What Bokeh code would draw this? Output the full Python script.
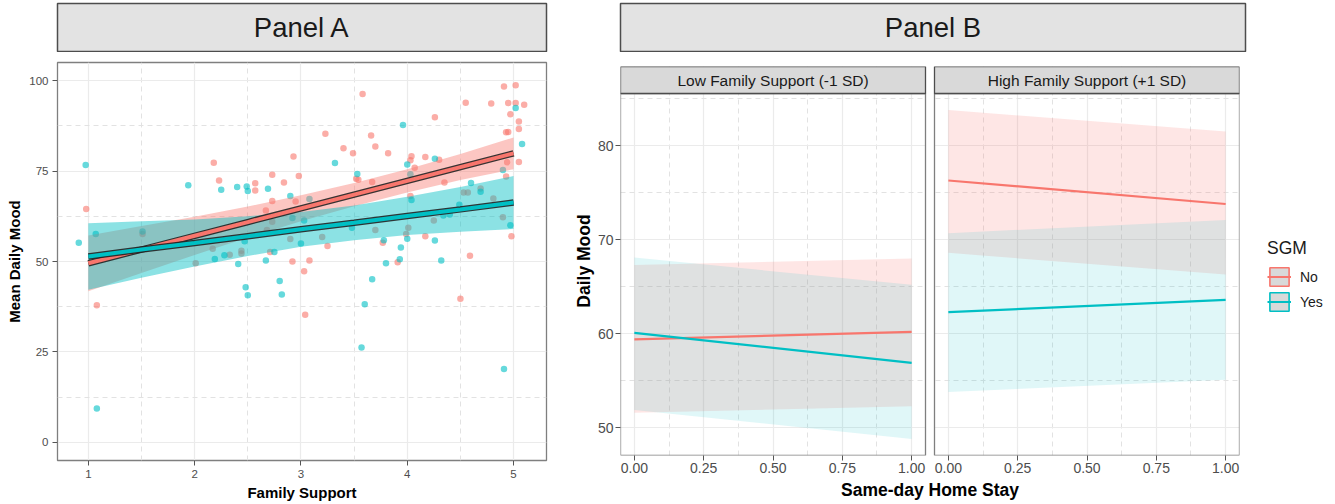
from bokeh.plotting import figure
from bokeh.models import (Range1d, FixedTicker, Legend, LegendItem, CustomJSTickFormatter)
from bokeh.layouts import row, column
from bokeh.embed import file_html
from bokeh.resources import INLINE
from bokeh.core.properties import value

FONT = "Liberation Sans"
RED = "#F8766D"
TEAL = "#00BFC4"
NAN = float("nan")

# ---------------- Panel A data ----------------
panel_titles = ["Panel A", "Panel B"]
no_x = [0.98, 1.08, 1.51, 2.01, 2.17, 2.18, 2.23, 2.33, 2.44, 2.44, 2.57, 2.57, 2.67, 2.68, 2.71,
        2.73, 2.73, 2.73, 2.84, 2.90, 2.92, 2.93, 2.95, 2.98, 3.03, 3.04, 3.08, 3.20, 3.23, 3.25,
        3.40, 3.49, 3.52, 3.54, 3.58, 3.66, 3.67, 3.70, 3.70, 3.77, 3.82, 3.91, 3.99, 4.01, 4.03,
        4.03, 4.04, 4.07, 4.17, 4.17, 4.25, 4.26, 4.30, 4.35, 4.50, 4.53, 4.55, 4.57, 4.59, 4.69,
        4.79, 4.81, 4.90, 4.91, 4.93, 4.93, 4.94, 4.95, 4.95, 4.97, 4.98, 5.02, 5.02, 5.05, 5.05,
        5.05, 5.10]
no_y = [64.5, 37.9, 57.6, 49.5, 53.5, 77.3, 72.4, 51.9, 52.2, 53.0, 71.6, 69.6, 64.1, 58.7, 52.6,
        74.0, 66.7, 61.0, 71.8, 56.2, 50.0, 79.0, 66.6, 73.6, 47.3, 35.3, 50.3, 56.8, 85.3, 54.3,
        81.3, 79.9, 72.9, 72.6, 96.3, 84.8, 72.0, 81.8, 58.7, 55.2, 79.9, 49.8, 57.6, 59.3, 68.1,
        78.0, 79.1, 75.9, 78.9, 57.0, 61.3, 89.9, 78.1, 71.8, 39.7, 69.1, 93.9, 69.1, 51.6, 70.2,
        93.7, 67.4, 62.2, 98.4, 85.7, 73.5, 77.4, 93.8, 85.8, 90.7, 57.0, 98.7, 93.8, 88.7, 86.6,
        77.5, 93.3]
yes_x = [0.91, 0.975, 1.07, 1.08, 1.51, 1.94, 2.19, 2.25, 2.28, 2.40, 2.41, 2.47, 2.48, 2.49, 2.50,
         2.50, 2.67, 2.69, 2.75, 2.80, 2.82, 2.90, 2.92, 3.00, 3.03, 3.08, 3.32, 3.48, 3.53, 3.57,
         3.60, 3.67, 3.78, 3.80, 3.93, 3.94, 3.96, 4.00, 4.00, 4.03, 4.04, 4.26, 4.26, 4.32, 4.34,
         4.40, 4.49, 4.60, 4.69, 4.90, 4.91, 4.97, 5.02, 5.08]
yes_y = [55.2, 76.7, 57.6, 9.4, 58.3, 71.1, 50.7, 69.8, 51.7, 70.6, 49.3, 55.6, 42.9, 70.7, 69.5,
         40.7, 50.3, 70.1, 52.6, 44.6, 40.9, 68.1, 62.0, 55.0, 61.3, 67.3, 77.2, 59.3, 74.2, 26.2,
         38.2, 45.1, 55.9, 49.5, 50.6, 53.9, 87.7, 76.8, 56.3, 74.1, 67.0, 78.4, 55.8, 50.3, 62.7,
         63.0, 65.7, 71.7, 69.3, 75.3, 20.3, 60.0, 92.4, 82.5]

fit_x = [1.0, 1.5, 2.0, 2.5, 3.0, 3.5, 4.0, 4.5, 5.0]
no_fit = [49.5, 53.3, 57.1, 60.9, 64.7, 68.5, 72.3, 76.1, 79.9]
no_lo = [41.8, 46.8, 51.8, 56.6, 61.1, 65.3, 69.1, 72.5, 75.5]
no_hi = [57.2, 59.8, 62.4, 65.2, 68.3, 71.7, 75.5, 79.7, 84.3]
yes_fit = [51.4, 53.3, 55.1, 57.0, 58.9, 60.7, 62.6, 64.4, 66.3]
yes_lo = [42.2, 45.5, 48.6, 51.5, 54.1, 55.9, 57.3, 58.2, 59.0]
yes_hi = [60.6, 61.1, 61.6, 62.5, 63.7, 65.5, 67.9, 70.6, 73.6]

a_xticks = [1, 2, 3, 4, 5]
a_yticks = [0, 25, 50, 75, 100]

# ---------------- Panel B data ----------------
facet_labels = ["Low Family Support (-1 SD)", "High Family Support (+1 SD)"]
sgm_groups = ["No", "Yes"]
hs_x = [0.0, 1.0]
low_no_fit = [59.4, 60.2]
low_no_lo = [51.6, 52.3]
low_no_hi = [67.3, 68.0]
low_yes_fit = [60.1, 56.9]
low_yes_lo = [51.9, 48.8]
low_yes_hi = [68.1, 65.2]
high_no_fit = [76.3, 73.8]
high_no_lo = [68.6, 66.3]
high_no_hi = [83.8, 81.5]
high_yes_fit = [62.3, 63.6]
high_yes_lo = [53.8, 55.1]
high_yes_hi = [70.7, 72.1]
b_xticks = [0.0, 0.25, 0.5, 0.75, 1.0]
b_yticks = [50, 60, 70, 80]

TICK_COL = "#4D4D4D"
BORDER = "#7F7F7F"
MAJ = "#EBEBEB"
MIN = "#E2E2E2"


def style_axes(p, label_size, tick_len):
    for ax in p.axis:
        ax.axis_line_color = None
        ax.major_tick_line_color = "#555555"
        ax.major_tick_out = tick_len
        ax.major_tick_in = 0
        ax.minor_tick_line_color = None
        ax.major_label_text_font = FONT
        ax.major_label_text_font_size = label_size
        ax.major_label_text_color = TICK_COL
        ax.axis_label_text_font = FONT
        ax.axis_label_text_font_style = "bold"
        ax.axis_label_text_color = "black"
    for g in p.grid:
        g.grid_line_color = MAJ
        g.grid_line_width = 1.2
        g.minor_grid_line_color = MIN
        g.minor_grid_line_width = 1
        g.minor_grid_line_dash = "5 4"


def title_box(width, left, box_w, text):
    t = figure(width=width, height=52, x_range=Range1d(0, 1), y_range=Range1d(0, 1),
               min_border_left=left, min_border_right=width - left - box_w,
               min_border_top=3, min_border_bottom=1,
               x_axis_location=None, y_axis_location=None,
               toolbar_location=None, output_backend="svg",
               background_fill_color="#E3E3E3", outline_line_color="#4D4D4D",
               outline_line_width=1.5)
    t.grid.visible = False
    t.text(x=[0.5], y=[0.5], text=[text], text_align="center", text_baseline="middle",
           text_font=value(FONT), text_font_size="27.5px", text_color="#1A1A1A")
    return t


WA, WB, WP, H = 570, 764, 673, 451
WL = WB - WP

# ---------------- Panel A ----------------
tA = title_box(WA, 57, 489, panel_titles[0])

pA = figure(width=WA, height=H, x_range=Range1d(0.71, 5.31), y_range=Range1d(-5, 105),
            min_border_left=55, min_border_right=WA - 55 - 492, min_border_top=10,
            min_border_bottom=H - 10 - 398,
            toolbar_location=None, output_backend="svg",
            outline_line_color=BORDER, outline_line_width=1.3)
pA.xaxis.ticker = FixedTicker(ticks=a_xticks,
                              minor_ticks=[(a + b) / 2 for a, b in zip(a_xticks[:-1], a_xticks[1:])])
pA.yaxis.ticker = FixedTicker(ticks=a_yticks,
                              minor_ticks=[(a + b) / 2 for a, b in zip(a_yticks[:-1], a_yticks[1:])])
pA.xaxis.axis_label = "Family Support"
pA.yaxis.axis_label = "Mean Daily Mood"
style_axes(pA, "11.5px", 5)
pA.axis.axis_label_text_font_size = "15px"
pA.xaxis.major_label_standoff = 4
pA.yaxis.major_label_standoff = 4
pA.xaxis.axis_label_standoff = 3
pA.yaxis.axis_label_standoff = 3

pA.scatter(no_x, no_y, size=6.5, fill_color=RED, fill_alpha=0.6, line_color=None)
pA.scatter(yes_x, yes_y, size=6.5, fill_color=TEAL, fill_alpha=0.6, line_color=None)
pA.varea(x=fit_x, y1=no_lo, y2=no_hi, fill_color=RED, fill_alpha=0.42)
pA.varea(x=fit_x, y1=yes_lo, y2=yes_hi, fill_color=TEAL, fill_alpha=0.45)
pA.line(fit_x, no_fit, line_color="#222222", line_width=6.5, line_alpha=0.9)
pA.line(fit_x, no_fit, line_color=RED, line_width=4)
pA.line(fit_x, yes_fit, line_color="#222222", line_width=6.5, line_alpha=0.9)
pA.line(fit_x, yes_fit, line_color=TEAL, line_width=4)

# ---------------- Panel B ----------------
tB = title_box(WB, 50, 625, panel_titles[1])

FACET_PX, GAP_PX, PANEL_PX, STRIP_PX = 305, 9, 362, 27
bx0, bx1 = -0.05, 1.05
span = bx1 - bx0
off = span * (1 + GAP_PX / FACET_PX)
by0, by1 = 47.05, 85.55
strip_h = (by1 - by0) * STRIP_PX / PANEL_PX

pB = figure(width=WP, height=H, x_range=Range1d(bx0, bx1 + off),
            y_range=Range1d(by0, by1 + strip_h),
            min_border_left=50, min_border_right=WP - 50 - 619, min_border_top=14,
            min_border_bottom=H - 14 - 389,
            toolbar_location=None, output_backend="svg", outline_line_color=None)
xt = b_xticks + [t + off for t in b_xticks]
xm = [(a + b) / 2 for a, b in zip(b_xticks[:-1], b_xticks[1:])]
xm = xm + [m + off for m in xm]
pB.xaxis.ticker = FixedTicker(ticks=xt, minor_ticks=xm)
pB.yaxis.ticker = FixedTicker(ticks=b_yticks, minor_ticks=[55, 65, 75, 85])
pB.xaxis.formatter = CustomJSTickFormatter(args=dict(off=off), code="""
    const v = tick > 1.02 ? tick - off : tick;
    return Math.abs(v).toFixed(2);
""")
pB.xaxis.axis_label = "Same-day Home Stay"
pB.yaxis.axis_label = "Daily Mood"
style_axes(pB, "14px", 5)
pB.axis.axis_label_text_font_size = "17.5px"
pB.xaxis.major_label_standoff = 2
pB.yaxis.major_label_standoff = 2
pB.xaxis.axis_label_standoff = 4
pB.yaxis.axis_label_standoff = 1

facets = [
    (0.0, low_no_fit, low_no_lo, low_no_hi, low_yes_fit, low_yes_lo, low_yes_hi),
    (off, high_no_fit, high_no_lo, high_no_hi, high_yes_fit, high_yes_lo, high_yes_hi),
]
for shift, nf, nl, nh, yf, yl, yh in facets:
    xs = [x + shift for x in hs_x]
    pB.varea(x=xs, y1=nl, y2=nh, fill_color=RED, fill_alpha=0.18)
    pB.varea(x=xs, y1=yl, y2=yh, fill_color=TEAL, fill_alpha=0.12)
    pB.line(xs, nf, line_color=RED, line_width=2.2)
    pB.line(xs, yf, line_color=TEAL, line_width=2.2)

lefts = [bx0, bx0 + off]
rights = [bx1, bx1 + off]
pB.quad(left=[bx1], right=[bx0 + off], bottom=[by0], top=[by1 + strip_h],
        fill_color="white", line_color=None)
pB.quad(left=lefts, right=rights, bottom=[by0, by0], top=[by1, by1],
        fill_color=None, line_color=BORDER, line_width=1.3)
pB.quad(left=lefts, right=rights, bottom=[by1, by1], top=[by1 + strip_h] * 2,
        fill_color="#D9D9D9", line_color="#4D4D4D", line_width=1.3)
pB.text(x=[(l + r) / 2 for l, r in zip(lefts, rights)], y=[by1 + strip_h / 2] * 2,
        text=facet_labels, text_align="center", text_baseline="middle",
        text_font=value(FONT), text_font_size="15.5px", text_color="#1A1A1A")

# ---------------- legend (own canvas) ----------------
pL = figure(width=WL, height=H, x_range=Range1d(0, 1), y_range=Range1d(0, 1),
            min_border_left=0, min_border_right=0, min_border_top=0, min_border_bottom=0,
            x_axis_location=None, y_axis_location=None, toolbar_location=None,
            output_backend="svg", outline_line_color=None)
pL.grid.visible = False
items = []
for lab, col in zip(sgm_groups, [RED, TEAL]):
    kb = pL.quad(left=[NAN], right=[NAN], bottom=[NAN], top=[NAN], fill_color="#D9D9D9",
                 line_color=col, line_width=1.6)
    kl = pL.line(x=[NAN], y=[NAN], line_color=col, line_width=2)
    items.append(LegendItem(label=lab, renderers=[kb, kl]))
leg = Legend(items=items, title="SGM", location=(24, 142),
             title_text_font=FONT, title_text_font_size="17.5px", title_text_font_style="normal",
             title_text_color="#1A1A1A", title_standoff=6,
             label_text_font=FONT, label_text_font_size="14px", label_text_color="#1A1A1A",
             glyph_width=24, glyph_height=23, spacing=2, label_standoff=9,
             padding=0, margin=0, border_line_color=None, background_fill_alpha=0)
pL.add_layout(leg)

layout = row(column(tA, pA), column(tB, row(pB, pL)))
open("out.html", "w").write(file_html(layout, INLINE, "chart"))
